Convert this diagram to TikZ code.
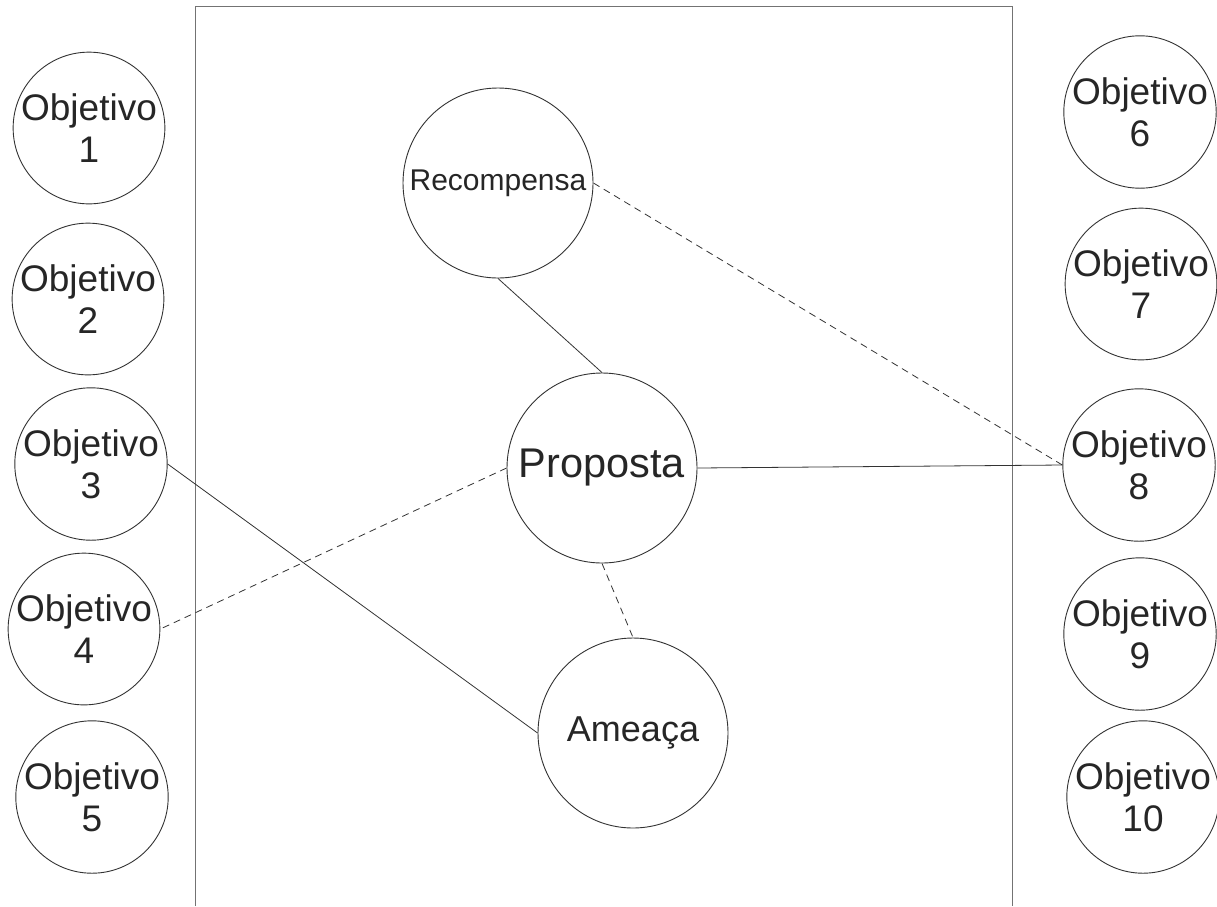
\documentclass[tikz,border=0pt]{standalone}
\usepackage{fontspec}
\setmainfont{Liberation Sans}
\begin{document}
\begin{tikzpicture}[x=1pt,y=-1pt,
  goal/.style={circle,draw=black!80,line width=0.9pt,minimum size=150pt,inner sep=0pt,
    align=center,text=black!85,font=\fontsize{37}{42}\selectfont},
  hub/.style={circle,draw=black!80,line width=0.9pt,minimum size=190pt,inner sep=0pt,
    align=center,text=black!85},
  link/.style={draw=black!80,line width=0.8pt},
  weak/.style={link,dash pattern=on 7pt off 5pt}]
\useasboundingbox (0,0) rectangle (1217,906);
\fill[white] (0,0) rectangle (1217,906);

% open frame around the central area
\draw[black!55,line width=1.5pt] (195.5,906) -- (195.5,6.5) -- (1012.7,6.5) -- (1012.7,906);

% goals on the left
\node[goal] (o1) at (89,128) {Objetivo\\1};
\node[goal] (o2) at (88,299) {Objetivo\\2};
\node[goal] (o3) at (91,464) {Objetivo\\3};
\node[goal] (o4) at (84,629) {Objetivo\\4};
\node[goal] (o5) at (92,797) {Objetivo\\5};

% goals on the right
\node[goal] (o6) at (1140,112) {Objetivo\\6};
\node[goal] (o7) at (1141,284) {Objetivo\\7};
\node[goal] (o8) at (1139,465) {Objetivo\\8};
\node[goal] (o9) at (1140,634) {Objetivo\\9};
\node[goal] (o10) at (1143,797) {Objetivo\\10};

% central elements
\node[hub,font=\fontsize{30}{34}\selectfont] (rec) at (498,183) {\raisebox{6pt}{Recompensa}};
\node[hub,font=\fontsize{41.5}{44}\selectfont] (prop) at (602,468) {Proposta};
\node[hub,font=\fontsize{36}{40}\selectfont] (ame) at (633,733) {Ameaça};

% connections
\draw[link] (rec.south) -- (prop.north);
\draw[weak] (rec.east) -- (o8.west);
\draw[link] (prop.east) -- (o8.west);
\draw[weak] (prop.west) -- (o4.east);
\draw[weak] (prop.south) -- (ame.north);
\draw[link] (o3.east) -- (ame.west);
\end{tikzpicture}
\end{document}
